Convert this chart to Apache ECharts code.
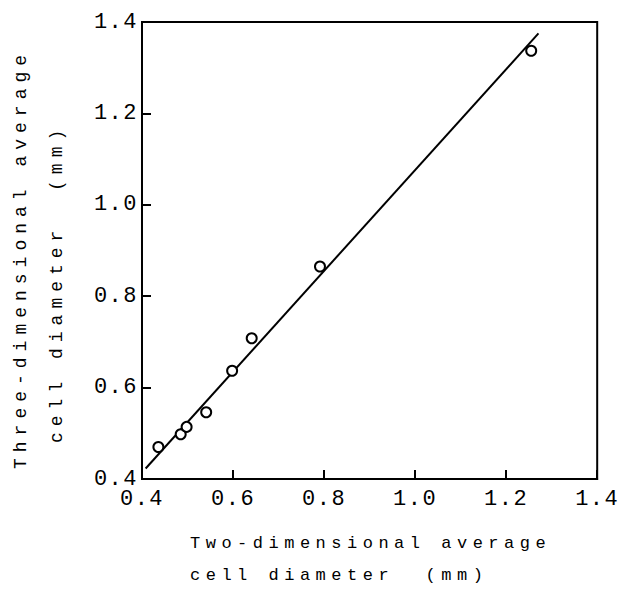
<!DOCTYPE html>
<html>
<head>
<meta charset="utf-8">
<script src="https://cdn.jsdelivr.net/npm/echarts@6/dist/echarts.min.js"></script>
<style>
  html, body { margin: 0; padding: 0; background: #fff; }
  #chart { width: 620px; height: 590px; }
  /* typewriter-like spacing for the figure lettering */
  #chart text { letter-spacing: 5.5px; }
  #chart text[style*="18px"] { letter-spacing: 6px; }
  #chart text[style*="22px"] { letter-spacing: 1.5px; }
</style>
</head>
<body>
<div id="chart"></div>
<script>
// Measured cell diameters (mm)
var twoDim   = [0.436, 0.485, 0.498, 0.541, 0.598, 0.641, 0.791, 1.255];
var threeDim = [0.470, 0.498, 0.514, 0.546, 0.637, 0.708, 0.865, 1.337];

// Regression line end points
var fitX = [0.408, 1.271];
var fitY = [0.423, 1.375];

// Axis range and tick step
var axisMin = 0.4, axisMax = 1.4, axisStep = 0.2;

// Axis titles
var xTitle = ['Two-dimensional average', 'cell diameter  (mm)'];
var yTitle = ['Three-dimensional average', 'cell diameter  (mm)'];

var FONT = '"Liberation Mono", monospace';

var points = twoDim.map(function (x, i) { return [x, threeDim[i]]; });
var fitLine = fitX.map(function (x, i) { return [x, fitY[i]]; });

function axisCommon() {
  return {
    type: 'value',
    min: axisMin,
    max: axisMax,
    interval: axisStep,
    axisLine: { show: true, lineStyle: { color: '#000', width: 2 } },
    axisTick: { show: true, inside: true, length: 9, lineStyle: { color: '#000', width: 2 } },
    splitLine: { show: false },
    axisLabel: {
      color: '#000',
      fontFamily: FONT,
      fontSize: 22,
      formatter: function (v) { return v.toFixed(1); }
    }
  };
}

var xAxis = axisCommon();
xAxis.axisLabel.margin = 9;
var yAxis = axisCommon();
yAxis.axisLabel.margin = 4;

var chart = echarts.init(document.getElementById('chart'), null, { renderer: 'svg' });
chart.setOption({
  backgroundColor: '#fff',
  animation: false,
  grid: {
    left: 142, right: 21, top: 22, bottom: 111,
    show: true, borderColor: '#000', borderWidth: 2, backgroundColor: 'transparent'
  },
  xAxis: xAxis,
  yAxis: yAxis,
  graphic: [
    { type: 'text', x: 190, y: 543, style: { text: xTitle[0], font: '17px ' + FONT, fill: '#000', textAlign: 'left', textVerticalAlign: 'middle' } },
    { type: 'text', x: 190, y: 575, style: { text: xTitle[1], font: '17px ' + FONT, fill: '#000', textAlign: 'left', textVerticalAlign: 'middle' } },
    { type: 'text', x: 21, y: 469, rotation: Math.PI / 2, style: { text: yTitle[0], font: '18px ' + FONT, fill: '#000', textAlign: 'left', textVerticalAlign: 'middle' } },
    { type: 'text', x: 57, y: 443, rotation: Math.PI / 2, style: { text: yTitle[1], font: '18px ' + FONT, fill: '#000', textAlign: 'left', textVerticalAlign: 'middle' } }
  ],
  series: [
    {
      type: 'line',
      data: fitLine,
      showSymbol: false,
      symbol: 'none',
      lineStyle: { color: '#000', width: 2 },
      z: 2
    },
    {
      type: 'scatter',
      data: points,
      symbol: 'circle',
      symbolSize: 10,
      itemStyle: { color: '#fff', borderColor: '#000', borderWidth: 2, opacity: 1 },
      z: 3
    }
  ]
});
</script>
</body>
</html>
